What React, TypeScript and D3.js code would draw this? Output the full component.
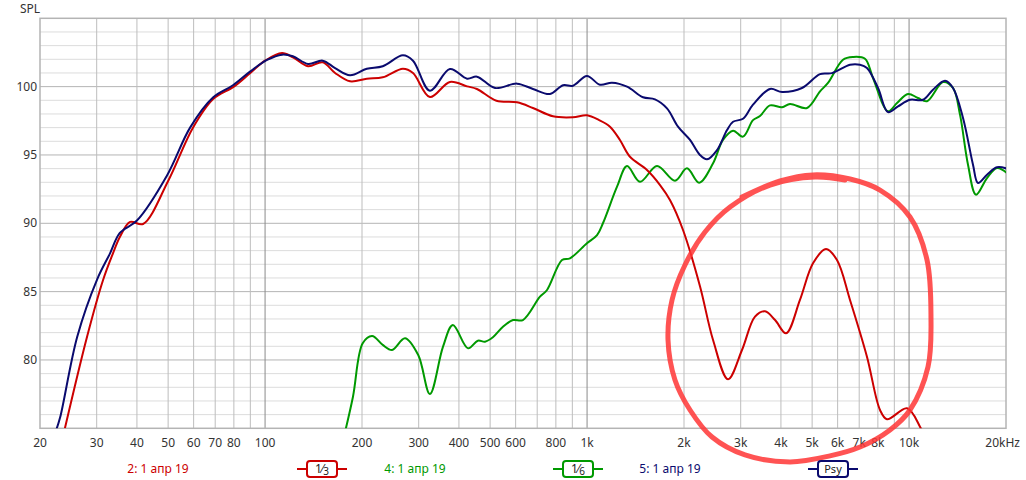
import React from 'react';
import * as d3 from 'd3';

// ---------- data ----------
const redFreq = [23.9, 28.0, 31.4, 33.7, 35.4, 38.1, 41.8, 50, 59.7, 69, 80, 90, 100, 112.9, 122, 136, 151, 165, 183.6, 207, 232, 268, 288, 325, 375, 424, 455, 523, 606, 679, 784, 904, 999, 1090, 1178, 1265, 1359, 1535, 1685, 1809, 1986, 2242, 2462, 2740, 3028, 3323, 3570, 3836, 4150, 4583, 5031, 5521, 5972, 6555, 7400, 8124, 8540, 9853, 10812, 11400];
const redDb = [75.0, 81.7, 85.85, 87.8, 89.0, 90.1, 89.95, 93.1, 97.0, 99.1, 100.0, 101.0, 101.9, 102.46, 102.15, 101.49, 101.78, 101.0, 100.39, 100.58, 100.68, 101.31, 101.0, 99.24, 100.34, 100.02, 99.83, 98.97, 98.85, 98.44, 97.83, 97.76, 97.9, 97.55, 97.07, 96.1, 94.87, 93.9, 92.8, 91.71, 89.51, 85.4, 81.46, 78.59, 80.73, 83.17, 83.56, 82.92, 81.95, 84.39, 87.07, 88.12, 87.31, 84.39, 80.24, 76.34, 75.66, 76.46, 75.12, 73.8];

const greenFreq = [175, 187.5, 201, 215, 232, 248, 272, 299, 325, 357, 383, 427, 458, 482, 510, 548, 589, 632, 714, 751, 836, 885, 999, 1074, 1121, 1239, 1331, 1460, 1649, 1875, 2043, 2228, 2462, 2643, 2840, 3050, 3276, 3443, 3700, 4033, 4268, 4820, 5290, 5600, 6235, 6696, 7296, 7727, 8600, 9175, 9924, 10658, 11368, 12748, 13693, 14394, 15242, 16140, 17460, 18752, 20140];
const greenDb = [74.2, 77.31, 81.22, 81.75, 81.1, 80.73, 81.59, 80.36, 77.51, 80.97, 82.56, 80.85, 81.41, 81.34, 81.66, 82.43, 82.92, 82.92, 84.63, 85.12, 87.31, 87.44, 88.54, 89.14, 90.02, 92.68, 94.19, 93.04, 94.19, 93.12, 94.02, 92.97, 94.39, 96.1, 96.78, 96.34, 97.55, 97.85, 98.63, 98.49, 98.73, 98.44, 99.66, 100.27, 101.97, 102.17, 102.04, 100.63, 98.2, 98.8, 99.46, 99.17, 98.93, 100.34, 99.9, 97.95, 94.29, 92.09, 93.31, 94.05, 93.68];

const navyFreq = [22.4, 23.1, 26.1, 30.1, 33, 35.4, 40, 49.6, 58.5, 68.9, 79.5, 89.8, 101.4, 112.9, 122, 136, 151, 165, 183.6, 207, 232, 268, 288, 325, 375, 424, 455, 518, 606, 679, 767, 842, 904, 999, 1097, 1195, 1331, 1492, 1625, 1771, 1916, 2088, 2242, 2358, 2533, 2721, 2840, 3050, 3276, 3700, 4033, 4650, 5290, 5763, 6555, 7040, 7400, 8010, 8600, 9240, 10066, 11046, 11866, 12932, 13693, 14708, 15796, 16371, 17460, 18752, 20140];
const navyDb = [74.8, 75.8, 81.7, 85.9, 87.8, 89.3, 90.2, 93.5, 97.0, 99.2, 100.1, 101.1, 101.95, 102.34, 102.22, 101.66, 101.9, 101.36, 100.83, 101.31, 101.49, 102.29, 101.9, 99.7, 101.29, 100.58, 100.73, 99.9, 100.22, 99.83, 99.46, 100.1, 100.07, 100.78, 100.14, 100.29, 100.0, 99.22, 99.07, 98.41, 97.07, 96.1, 95.0, 94.68, 95.36, 96.83, 97.43, 97.65, 98.68, 99.83, 99.61, 99.9, 100.92, 100.99, 101.6, 101.6, 101.36, 99.9, 98.14, 98.56, 99.04, 99.04, 99.78, 100.43, 99.9, 97.71, 94.29, 92.95, 93.56, 94.1, 94.0];

// hand-drawn annotation ring (in freq / dB space)
const ringFreq = [3028, 3974, 5031, 6555, 8124, 10066, 11368, 11696, 11450, 10066, 8724, 7040, 5678, 4268, 3093, 2444, 2088, 1875, 1784, 1836, 2014, 2324, 2780, 3700, 5104, 6325];
const ringDb = [91.92, 93.1, 93.54, 93.24, 92.43, 90.46, 87.32, 83.15, 79.49, 76.34, 74.88, 73.63, 72.98, 72.54, 73.05, 74.36, 76.34, 78.54, 81.46, 84.39, 86.95, 89.36, 91.19, 92.8, 93.39, 93.17];

const xTicks = [20, 30, 40, 50, 60, 70, 80, 100, 200, 300, 400, 500, 600, 800, 1000, 2000, 3000, 4000, 5000, 6000, 7000, 8000, 10000, 20000];
const xTickLabels = ['20', '30', '40', '50', '60', '70', '80', '100', '200', '300', '400', '500', '600', '800', '1k', '2k', '3k', '4k', '5k', '6k', '7k', '8k', '10k', '20kHz'];
const xGrid = [30, 40, 50, 60, 70, 80, 90, 200, 300, 400, 500, 600, 700, 800, 900, 2000, 3000, 4000, 5000, 6000, 7000, 8000, 9000];
const xDecades = [100, 1000, 10000];
const yTicks = [80, 85, 90, 95, 100];
const yLabels = ['80', '85', '90', '95', '100'];

const legendNames = ['2: 1 апр 19', '4: 1 апр 19', '5: 1 апр 19'];
const legendTags = ['1/3', '1/6', 'Psy'];

const RED = '#cc0000';
const GREEN = '#009900';
const NAVY = '#0a0a6e';

const W = 1026;
const H = 480;

export default function App() {
  const L = 40, R = 1006, T = 18.3, B = 428.3;
  const x = d3.scaleLog().domain([20, 20000]).range([L, R]);
  const y = d3.scaleLinear().domain([75, 105]).range([B, T]);
  const line = d3.line<[number, number]>().x(d => x(d[0])).y(d => y(d[1])).curve(d3.curveCatmullRom.alpha(0.5));
  const ringLine = d3.line<[number, number]>().x(d => x(d[0])).y(d => y(d[1])).curve(d3.curveCatmullRom.alpha(0.5));
  const zip = (f: number[], v: number[]) => f.map((ff, i) => [ff, v[i]] as [number, number]);
  const font = '"Noto Sans", "Open Sans", sans-serif';
  const minorDb = d3.range(76, 105).filter(v => v % 5 !== 0);

  const legendY = 469;
  const legendItems = [
    { name: legendNames[0], color: RED, tx: 158, box: 322 },
    { name: legendNames[1], color: GREEN, tx: 415, box: 578 },
    { name: legendNames[2], color: NAVY, tx: 670, box: 833 },
  ];

  const tag = (i: number, cx: number, color: string) => {
    const t = legendTags[i];
    let content;
    if (t.includes('/')) {
      const [a, b] = t.split('/');
      content = (
        <text x={cx} y={legendY + 4} textAnchor="middle" fontSize={12} fill="#222" fontFamily={font}>
          <tspan>{a}</tspan><tspan>{'\u2044'}</tspan><tspan dy={2} fontSize={10}>{b}</tspan>
        </text>
      );
    } else {
      content = (
        <text x={cx} y={legendY + 4} textAnchor="middle" fontSize={11} fill="#222" fontFamily={font}>{t}</text>
      );
    }
    return (
      <g key={'tag' + i}>
        <line x1={cx - 25} x2={cx + 25} y1={legendY} y2={legendY} stroke={color} strokeWidth={2} />
        <rect x={cx - 15} y={legendY - 8} width={30} height={16} rx={3} fill="#fff" stroke={color} strokeWidth={2} />
        {content}
      </g>
    );
  };

  return (
    <svg width={W} height={H} style={{ position: 'absolute', left: 0, top: 0, background: '#fff' }}>
      <defs>
        <clipPath id="plot"><rect x={L} y={T} width={R - L} height={B - T} /></clipPath>
      </defs>
      <rect x={0} y={0} width={W} height={H} fill="#fff" />
      {minorDb.map(v => (
        <line key={'m' + v} x1={L} x2={R} y1={y(v)} y2={y(v)} stroke="#dcdcdc" strokeWidth={1} />
      ))}
      {yTicks.map(v => (
        <line key={'M' + v} x1={L} x2={R} y1={y(v)} y2={y(v)} stroke="#b4b4b4" strokeWidth={1} />
      ))}
      {xGrid.map(f => (
        <line key={'v' + f} x1={x(f)} x2={x(f)} y1={T} y2={B} stroke="#bdbdbd" strokeWidth={1} />
      ))}
      {xDecades.map(f => (
        <line key={'d' + f} x1={x(f)} x2={x(f)} y1={T} y2={B} stroke="#8a8a8a" strokeWidth={1} />
      ))}
      <rect x={L} y={T} width={R - L} height={B - T} fill="none" stroke="#b4b4b4" strokeWidth={1.5} />

      <text x={20} y={13} fontSize={12} fill="#333" fontFamily={font}>SPL</text>
      {yTicks.map((v, i) => (
        <text key={'yl' + v} x={37} y={y(v) + 4} textAnchor="end" fontSize={12} fill="#333" fontFamily={font}>{yLabels[i]}</text>
      ))}
      {xTicks.map((f, i) => (
        <text key={'xl' + f} x={i === xTicks.length - 1 ? 1020 : x(f)} y={447} textAnchor={i === xTicks.length - 1 ? 'end' : 'middle'} fontSize={12} fill="#333" fontFamily={font}>{xTickLabels[i]}</text>
      ))}

      <g clipPath="url(#plot)" fill="none" strokeWidth={2} strokeLinejoin="round">
        <path d={line(zip(greenFreq, greenDb)) || ''} stroke={GREEN} />
        <path d={line(zip(redFreq, redDb)) || ''} stroke={RED} />
        <path d={line(zip(navyFreq, navyDb)) || ''} stroke={NAVY} />
      </g>

      <path d={ringLine(zip(ringFreq, ringDb)) || ''} fill="none" stroke="#ff3535" strokeOpacity={0.85} strokeWidth={5} strokeLinecap="round" strokeLinejoin="round" />

      {legendItems.map((it, i) => (
        <g key={'lg' + i}>
          <text x={it.tx} y={legendY + 4} textAnchor="middle" fontSize={12} fill={it.color} fontFamily={font}>{it.name}</text>
          {tag(i, it.box, it.color)}
        </g>
      ))}
    </svg>
  );
}
